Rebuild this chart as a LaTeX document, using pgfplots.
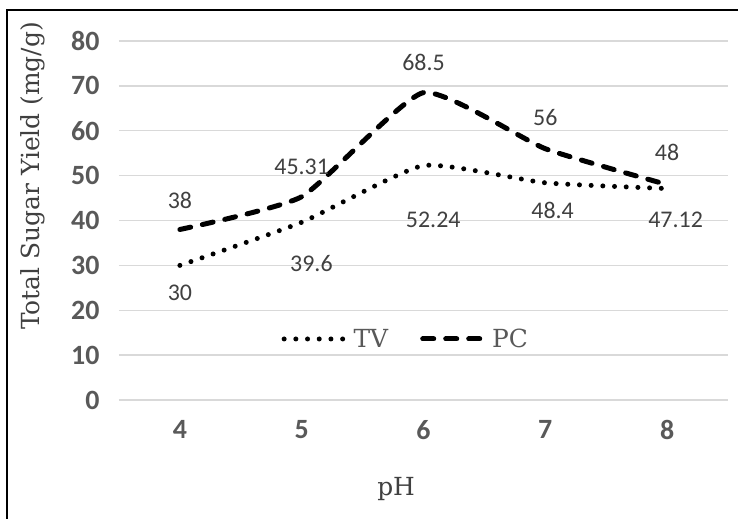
\documentclass[border=0pt]{standalone}
\usepackage{pgfplots}
\pgfplotsset{compat=1.18}
\usepackage{fontspec}
\setmainfont{Carlito}
\newfontfamily\titlefont{DejaVu Serif}
\definecolor{tickgray}{HTML}{595959}
\definecolor{lblgray}{HTML}{404040}
\definecolor{gridgray}{HTML}{D9D9D9}
\newcommand{\tickf}{\fontsize{28pt}{32pt}\selectfont\bfseries}
\newcommand{\titlef}{\titlefont\fontsize{25pt}{29pt}\selectfont}
\newcommand{\lblf}{\fontsize{24pt}{28pt}\selectfont}
\pgfplotsset{mylegendline/.style={legend image code/.code={\draw[##1] (0bp,0bp) -- (65bp,0bp);}}}
\begin{document}
\begin{tikzpicture}
\begin{axis}[
  at={(0,0)}, anchor=south west,
  scale only axis, width=609bp, height=359bp,
  xmin=3.5, xmax=8.5, ymin=0, ymax=80,
  xtick={4,5,6,7,8}, ytick={0,10,...,80},
  xticklabels={{\tickf 4},{\tickf 5},{\tickf 6},{\tickf 7},{\tickf 8}},
  yticklabels={{\tickf 0},{\tickf 10},{\tickf 20},{\tickf 30},{\tickf 40},{\tickf 50},{\tickf 60},{\tickf 70},{\tickf 80}},
  axis line style={draw=none},
  major tick length=0pt,
  ymajorgrids, grid style={gridgray, line width=1.3bp},
  tick label style={text=tickgray},
  yticklabel style={xshift=-16bp},
  xticklabel style={yshift=-17bp},
  xlabel={\titlef pH}, ylabel={\titlef Total Sugar Yield (mg/g)},
  label style={text=lblgray},
  xlabel style={at={(rel axis cs:0.455,0)}, anchor=center, yshift=-89bp},
  ylabel style={at={(rel axis cs:0,0.624)}, anchor=center, yshift=86bp, xshift=0bp},
  clip=false,
  mylegendline,
  legend columns=2,
  legend style={draw=none, fill=none, at={(rel axis cs:0.471,0.17)}, anchor=center,
    text=tickgray,
    /tikz/every even column/.append style={column sep=30bp}},
]
\addplot[black, line width=5bp, line cap=round, dash pattern=on 0bp off 11.7bp, smooth, tension=0.3]
  coordinates {(4,30) (5,39.6) (6,52.24) (7,48.4) (8,47.12)};
\addlegendentry{\titlef TV}
\addplot[black, line width=5bp, line cap=round, dash pattern=on 11bp off 12bp, smooth, tension=0.3]
  coordinates {(4,38) (5,45.31) (6,68.5) (7,56) (8,48)};
\addlegendentry{\titlef PC}
\addplot[draw=none, forget plot, nodes near coords, point meta=explicit symbolic,
  nodes near coords style={anchor=center, inner sep=0pt, text=lblgray}]
  coordinates {(4,23.8)[\lblf 30] (5.08,30.5)[\lblf 39.6] (6.08,40.1)[\lblf 52.24] (7.06,42.3)[\lblf 48.4] (8.07,40.1)[\lblf 47.12]
               (4,44.5)[\lblf 38] (5.0,51.9)[\lblf 45.31] (6.0,75.3)[\lblf 68.5] (7.0,63.0)[\lblf 56] (8.0,55.2)[\lblf 48]};
\end{axis}
\draw[black, line width=1.6bp] (-112bp,-140bp) -- (-112bp,390bp) -- (640bp,390bp);
\pgfresetboundingbox
\path (-119bp,-119bp) rectangle (619bp,400bp);
\end{tikzpicture}
\end{document}
